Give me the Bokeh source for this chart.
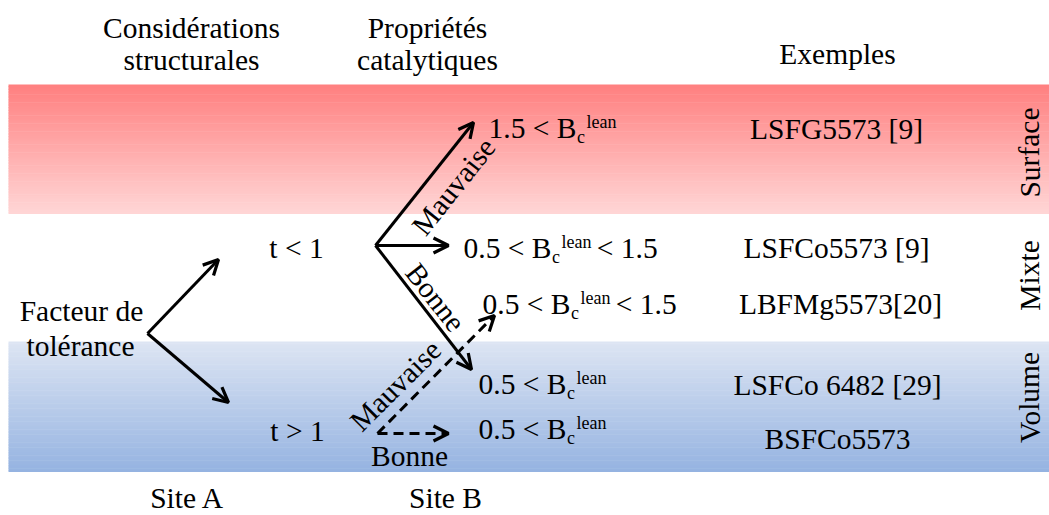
import numpy as np
from bokeh.plotting import figure
from bokeh.models import Range1d, Arrow, OpenHead, ColumnDataSource
from bokeh.core.properties import value
from bokeh.embed import file_html
from bokeh.resources import INLINE

# ---------------- data ----------------
FONT = "Liberation Serif"
MAIN = 29.5   # px
SMALL = 18    # px

# column headers / footers (text, centre x, baseline y)
header_text = ["Considérations", "structurales", "Propriétés", "catalytiques",
               "Exemples", "Site A", "Site B"]
header_x = [191, 191, 427, 427, 837, 187, 445]
header_y = [37, 69, 37, 69, 63, 507, 507]

# plain labels of the tree
label_text = ["Facteur de", "tolérance", "t < 1", "t > 1", "Bonne"]
label_x = [81, 80, 296, 297, 409]
label_y = [320, 355, 257, 440, 465]

# B_c^lean rows
row_prefix = ["1.5 < B", "0.5 < B", "0.5 < B", "0.5 < B", "0.5 < B"]
row_suffix = ["", "< 1.5", "< 1.5", "", ""]
row_x = [488, 463, 482, 478, 478]
row_y = [137, 257, 313, 393, 438]

# examples column
example_text = ["LSFG5573 [9]", "LSFCo5573 [9]", "LBFMg5573[20]",
                "LSFCo 6482 [29]", "BSFCo5573"]
example_x = [836, 836, 840, 837, 837]
example_y = [138, 257, 313, 394, 448]

# rotated branch labels
branch_text = ["Mauvaise", "Bonne", "Mauvaise"]
branch_x = [453, 435, 395]
branch_y = [186, 297, 385]
branch_angle = [51.5, -52, 45]

# zone labels (vertical)
zone_text = ["Surface", "Mixte", "Volume"]
zone_x = [1029, 1029, 1029]
zone_y = [152, 275, 397]

# zone bands
band_top = [84, 341]
band_bottom = [213, 471]
band_color_top = [(255, 127, 127), (221, 229, 243)]
band_color_bottom = [(255, 214, 214), (149, 179, 225)]

# arrows
solid_x0 = [147, 147, 375, 375, 375]
solid_y0 = [333, 333, 245, 245, 245]
solid_x1 = [218, 228, 473, 448, 471]
solid_y1 = [259, 402, 122, 245, 369]
dash_x0 = [377, 377]
dash_y0 = [433, 433]
dash_x1 = [494, 448]
dash_y1 = [315, 433]

# ---------------- figure ----------------
p = figure(width=1049, height=515, x_range=Range1d(0, 1049), y_range=Range1d(515, 0),
           output_backend="svg", toolbar_location=None, min_border=0,
           x_axis_location=None, y_axis_location=None)
p.grid.visible = False
p.outline_line_color = None
p.background_fill_color = "white"

# gradient bands as thin strips
N = 80
for t, b, c0, c1 in zip(band_top, band_bottom, band_color_top, band_color_bottom):
    edges = np.linspace(t, b, N + 1)
    fr = (np.arange(N) + 0.5) / N
    cols = ["#%02x%02x%02x" % tuple(int(round(c0[k] + (c1[k] - c0[k]) * f)) for k in range(3))
            for f in fr]
    p.quad(left=8, right=1049, top=edges[:-1], bottom=edges[1:] + 0.6,
           fill_color=cols, line_color=None)

common = dict(text_font=value(FONT), text_color="black", text_baseline="middle")


def mid(ys, size):
    # convert a baseline position to the middle of the font box (Liberation Serif)
    return [y - 0.3375 * size for y in ys]


p.text(x=header_x, y=mid(header_y, MAIN), text=header_text, text_align="center",
       text_font_size=f"{MAIN}px", **common)
p.text(x=label_x, y=mid(label_y, MAIN), text=label_text, text_align="center",
       text_font_size=f"{MAIN}px", **common)
p.text(x=example_x, y=mid(example_y, MAIN), text=example_text, text_align="center",
       text_font_size=f"{MAIN}px", **common)
p.text(x=branch_x, y=branch_y, text=branch_text, angle=branch_angle, angle_units="deg",
       text_align="center", text_font_size=f"{MAIN}px", **common)
p.text(x=zone_x, y=zone_y, text=zone_text, angle=[90] * 3, angle_units="deg",
       text_align="center", text_font_size=f"{MAIN}px", **common)

# Times advance widths (em) for composing sub/superscripts
W = {'0': .5, '1': .5, '5': .5, '.': .25, ' ': .25, '<': .564, 'B': .667,
     'c': .444, 'l': .278, 'e': .444, 'a': .444, 'n': .5}


def width(s, size):
    return sum(W[ch] for ch in s) * size


pre_x, sub_x, sup_x, suf_x = [], [], [], []
for pre, x0 in zip(row_prefix, row_x):
    xs = x0 + width(pre, MAIN) + 0.5
    pre_x.append(x0)
    sub_x.append(xs)
    sup_x.append(xs + width("c", SMALL) + 1.5)
    suf_x.append(xs + width("c", SMALL) + 1.5 + width("lean", SMALL) + width(" ", MAIN) - 2)

p.text(x=pre_x, y=mid(row_y, MAIN), text=row_prefix, text_align="left",
       text_font_size=f"{MAIN}px", **common)
p.text(x=sub_x, y=mid([y + 6 for y in row_y], SMALL), text=["c"] * 5, text_align="left",
       text_font_size=f"{SMALL}px", **common)
p.text(x=sup_x, y=mid([y - 9 for y in row_y], SMALL), text=["lean"] * 5, text_align="left",
       text_font_size=f"{SMALL}px", **common)
p.text(x=suf_x, y=mid(row_y, MAIN), text=row_suffix, text_align="left",
       text_font_size=f"{MAIN}px", **common)

# arrows
solid = ColumnDataSource(dict(x0=solid_x0, y0=solid_y0, x1=solid_x1, y1=solid_y1))
p.add_layout(Arrow(source=solid, x_start="x0", y_start="y0", x_end="x1", y_end="y1",
                   line_width=3, line_color="black",
                   end=OpenHead(size=15, line_width=3.2, line_color="black")))
dashed = ColumnDataSource(dict(x0=dash_x0, y0=dash_y0, x1=dash_x1, y1=dash_y1))
p.add_layout(Arrow(source=dashed, x_start="x0", y_start="y0", x_end="x1", y_end="y1",
                   line_width=3, line_color="black", line_dash="10 6",
                   end=OpenHead(size=15, line_width=3.2, line_color="black")))

open("out.html", "w").write(file_html(p, INLINE))
